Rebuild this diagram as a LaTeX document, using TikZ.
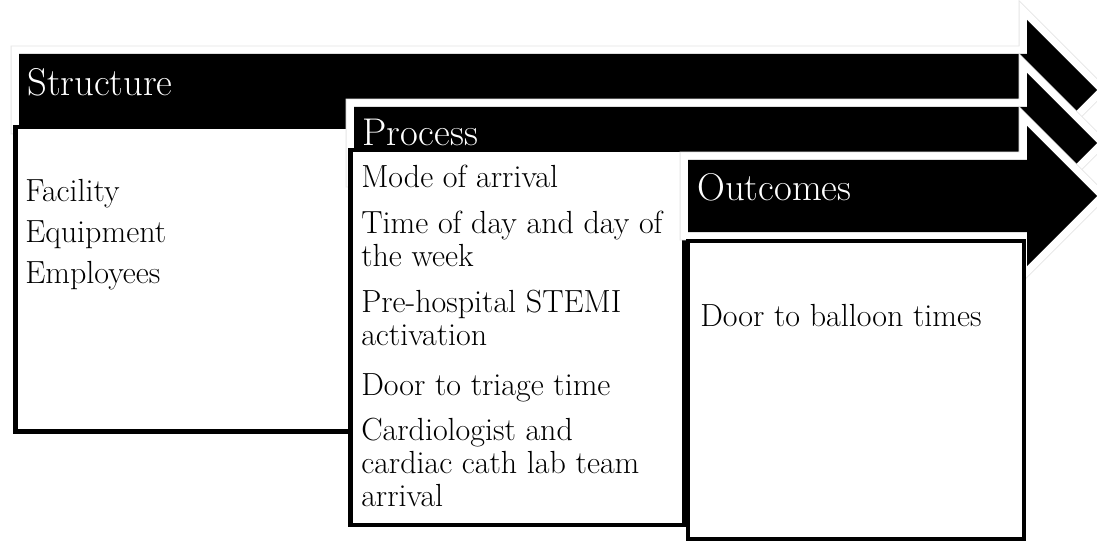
\documentclass[tikz,border=0pt]{standalone}
\newcommand{\chevronshape}[2]{%
  \draw[arrowshadow] (#1,#2-36) -- (1027,#2-36) -- (1027,#2-70) -- (1097,#2) -- (1027,#2+70) -- (1027,#2+36) -- (#1,#2+36) -- cycle;
  \draw[arrowrim] (#1,#2-36) -- (1027,#2-36) -- (1027,#2-70) -- (1097,#2) -- (1027,#2+70) -- (1027,#2+36) -- (#1,#2+36) -- cycle;
  \fill[arrowbody] (#1,#2-36) -- (1027,#2-36) -- (1027,#2-70) -- (1097,#2) -- (1027,#2+70) -- (1027,#2+36) -- (#1,#2+36) -- cycle;
}
\newcommand{\itemlines}[1]{\begin{tabular}[t]{@{}l@{}}#1\end{tabular}}
\begin{document}
\begin{tikzpicture}[x=0.75pt,y=-0.75pt,
  arrowshadow/.style={draw=black!10, line width=12.6pt, line join=miter},
  arrowrim/.style={draw=white, line width=11.25pt, line join=miter},
  arrowbody/.style={fill=black},
  itembox/.style={draw=black, fill=white, line width=3.4pt},
  headtext/.style={text=white, font=\fontsize{29}{32}\selectfont, anchor=base west, inner sep=0pt},
  itemtext/.style={text=black, font=\fontsize{24}{24.75}\selectfont, anchor=base west, inner sep=0pt}]
\useasboundingbox (0,0) rectangle (1097,542);
\fill[white] (0,0) rectangle (1097,542);
% Structure
\chevronshape{19}{90}
\draw[itembox] (15.5,127) rectangle (360,431.5);
\node[headtext] (structure) at (27,96) {Structure};
\node[itemtext] (facility) at (25,201) {Facility};
\node[itemtext] (equipment) at (25,242) {Equipment};
\node[itemtext] (employees) at (25,283) {Employees};
% Process
\chevronshape{354}{143}
\draw[itembox] (350.5,150) rectangle (684,525);
\node[headtext] (process) at (362,146) {Process};
\node[itemtext] (mode) at (361,187) {Mode of arrival};
\node[itemtext] (timeday) at (361,233) {\itemlines{Time of day and day of\\the week}};
\node[itemtext] (prehosp) at (361,312) {\itemlines{Pre-hospital STEMI\\activation}};
\node[itemtext] (triage) at (361,395) {Door to triage time};
\node[itemtext] (cardio) at (361,440) {\itemlines{Cardiologist and\\cardiac cath lab team\\arrival}};
% Outcomes
\chevronshape{688}{196}
\draw[itembox] (688,241) rectangle (1024,539);
\node[headtext] (outcomes) at (697,200) {Outcomes};
\node[itemtext] (balloon) at (700,326) {Door to balloon times};
\end{tikzpicture}
\end{document}
